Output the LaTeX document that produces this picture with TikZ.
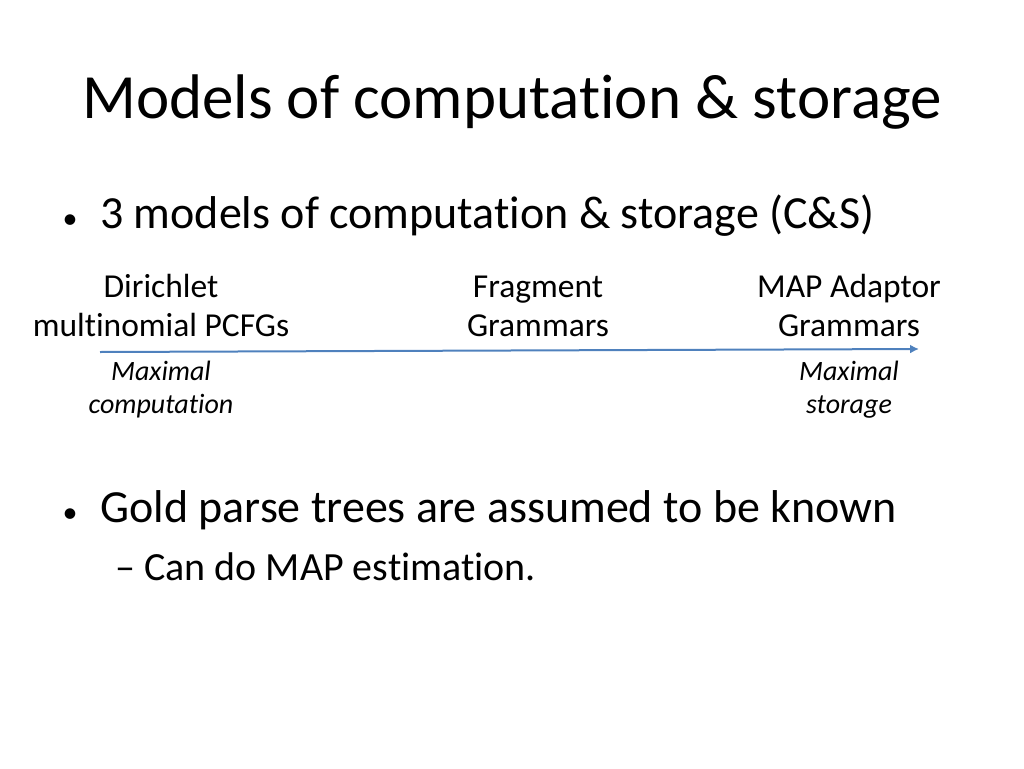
\documentclass[tikz,border=0pt]{standalone}
\usepackage{fontspec}
\setmainfont{Carlito}[Ligatures=NoCommon]
\usetikzlibrary{arrows.meta, positioning}
\definecolor{arrowblue}{RGB}{79,129,189}
\begin{document}
\begin{tikzpicture}[x=1pt, y=-1pt,
every node/.style = {inner sep=0pt, anchor=base},
label/.style = {font=\fontsize{33.5}{40}\selectfont, align=center},
note/.style  = {font=\itshape\fontsize{28}{34}\selectfont, align=center},
                    ]
%---
\useasboundingbox (0,0) rectangle (1024,768);

\node (title) at (512,118) {\fontsize{63}{70}\selectfont Models of computation \& storage};

\node (dot1) at (70,228) {\fontsize{30}{44}\selectfont •};
\node (item1) [anchor=base west] at (100,228) {\fontsize{46}{50}\selectfont 3 models of computation \& storage (C\&S)};

\node (dmp) [label] at (161,297) {Dirichlet};
\node (dmp2) [label] at (161,336) {multinomial PCFGs};
\node (fg) [label] at (538,297) {Fragment};
\node (fg2) [label] at (538,336) {Grammars};
\node (ag) [label] at (849,297) {MAP Adaptor};
\node (ag2) [label] at (849,336) {Grammars};

\coordinate (start) at (100,352);
\coordinate (end) at (919,349);
\draw[arrowblue, line width=2pt, -{Latex[length=9pt,width=9pt]}] (start) -- (end);

\node (maxc) [note] at (161,380) {Maximal};
\node (maxc2) [note] at (161,413) {computation};
\node (maxs) [note] at (849,380) {Maximal};
\node (maxs2) [note] at (849,413) {storage};

\node (dot2) at (70,522) {\fontsize{30}{44}\selectfont •};
\node (item2) [anchor=base west] at (100,522) {\fontsize{46}{50}\selectfont Gold parse trees are assumed to be known};
\node (sub) [anchor=base west] at (115,580) {\fontsize{40}{44}\selectfont – Can do MAP estimation.};
\end{tikzpicture}
\end{document}
